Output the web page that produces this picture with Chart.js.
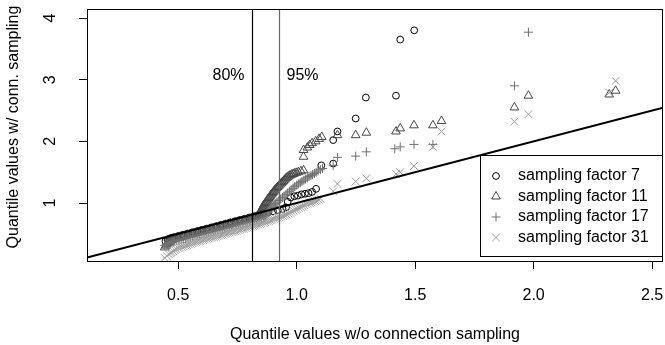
<!DOCTYPE html>
<html>
<head>
<meta charset="utf-8">
<script src="https://cdn.jsdelivr.net/npm/chart.js@4.4.1/dist/chart.umd.min.js"></script>
<style>
  html, body { margin: 0; padding: 0; background: #fff; }
  #wrap { width: 665px; height: 345px; }
</style>
</head>
<body>
<div id="wrap"><canvas id="qq" width="665" height="345"></canvas></div>
<script>
// QQ plot: quantiles with connection sampling vs. without.
const SERIES_LABELS = ['sampling factor 7', 'sampling factor 11', 'sampling factor 17', 'sampling factor 31'];

const factor7 = [
  [0.446, 0.38], [0.455, 0.40], [0.462, 0.42], [0.47, 0.435], [0.48, 0.445], [0.50, 0.465], [0.52, 0.485],
  [0.54, 0.505], [0.56, 0.525], [0.58, 0.545], [0.60, 0.565], [0.62, 0.585], [0.64, 0.605], [0.66, 0.625],
  [0.68, 0.645], [0.70, 0.665], [0.72, 0.685], [0.74, 0.705], [0.76, 0.725], [0.78, 0.745], [0.80, 0.765],
  [0.82, 0.785], [0.84, 0.805], [0.86, 0.825], [0.88, 0.845], [0.90, 0.865], [0.92, 0.885], [0.94, 0.905],
  [0.955, 0.93], [0.962, 1.02], [0.975, 1.09], [0.99, 1.11], [1.005, 1.12], [1.02, 1.14], [1.035, 1.15],
  [1.05, 1.16], [1.065, 1.18], [1.082, 1.23], [1.104, 1.61], [1.154, 1.64], [1.154, 2.02], [1.172, 2.16],
  [1.249, 2.37], [1.292, 2.71], [1.419, 2.74], [1.437, 3.65], [1.496, 3.80]
];

const factor11 = [
  [0.443, 0.28], [0.448, 0.31], [0.452, 0.33], [0.456, 0.35], [0.46, 0.37], [0.465, 0.385], [0.47, 0.40],
  [0.475, 0.41], [0.48, 0.42], [0.485, 0.425], [0.49, 0.43], [0.497, 0.438], [0.505, 0.445], [0.512, 0.453],
  [0.52, 0.46], [0.527, 0.468], [0.535, 0.475], [0.542, 0.483], [0.55, 0.49], [0.557, 0.498], [0.565, 0.505],
  [0.572, 0.513], [0.58, 0.52], [0.587, 0.528], [0.595, 0.535], [0.602, 0.543], [0.61, 0.55], [0.617, 0.558],
  [0.625, 0.565], [0.632, 0.573], [0.64, 0.58], [0.647, 0.588], [0.655, 0.595], [0.662, 0.603], [0.67, 0.61],
  [0.677, 0.618], [0.685, 0.625], [0.692, 0.633], [0.70, 0.64], [0.707, 0.648], [0.715, 0.655], [0.722, 0.663],
  [0.73, 0.67], [0.737, 0.678], [0.745, 0.685], [0.752, 0.693], [0.76, 0.70], [0.767, 0.708], [0.775, 0.715],
  [0.782, 0.723], [0.79, 0.73], [0.797, 0.738], [0.805, 0.745], [0.812, 0.753], [0.82, 0.76], [0.826, 0.77],
  [0.832, 0.78], [0.836, 0.79], [0.84, 0.80], [0.843, 0.82], [0.845, 0.84], [0.848, 0.86], [0.85, 0.88],
  [0.853, 0.90], [0.855, 0.92], [0.858, 0.94], [0.86, 0.96], [0.864, 0.98], [0.868, 1.0], [0.872, 1.02],
  [0.875, 1.04], [0.879, 1.06], [0.882, 1.08], [0.886, 1.10], [0.89, 1.12], [0.894, 1.14], [0.898, 1.16],
  [0.902, 1.18], [0.906, 1.20], [0.91, 1.22], [0.915, 1.24], [0.92, 1.26], [0.925, 1.28], [0.93, 1.30],
  [0.935, 1.32], [0.94, 1.34], [0.945, 1.36], [0.95, 1.38], [0.955, 1.40], [0.96, 1.415], [0.965, 1.43],
  [0.972, 1.445], [0.978, 1.46], [0.985, 1.47], [0.99, 1.48], [0.998, 1.49], [1.007, 1.50], [1.018, 1.515],
  [1.029, 1.53], [1.029, 1.75], [1.029, 1.86], [1.045, 1.90], [1.055, 1.94], [1.065, 1.97], [1.08, 2.0],
  [1.095, 2.04], [1.106, 2.07], [1.172, 2.10], [1.249, 2.10], [1.294, 2.14], [1.419, 2.16], [1.437, 2.21],
  [1.495, 2.26], [1.575, 2.26], [1.611, 2.33], [1.919, 2.55], [1.978, 2.74], [2.319, 2.76], [2.346, 2.82]
];

const factor17 = [
  [0.443, 0.31], [0.449, 0.33], [0.455, 0.34], [0.46, 0.35], [0.465, 0.36], [0.47, 0.365], [0.475, 0.37],
  [0.48, 0.375], [0.485, 0.38], [0.492, 0.388], [0.50, 0.395], [0.507, 0.403], [0.515, 0.41], [0.522, 0.418],
  [0.53, 0.425], [0.537, 0.433], [0.545, 0.44], [0.552, 0.448], [0.56, 0.455], [0.567, 0.463], [0.575, 0.47],
  [0.582, 0.478], [0.59, 0.485], [0.597, 0.493], [0.605, 0.50], [0.612, 0.508], [0.62, 0.515], [0.627, 0.523],
  [0.635, 0.53], [0.642, 0.538], [0.65, 0.545], [0.657, 0.553], [0.665, 0.56], [0.672, 0.568], [0.68, 0.575],
  [0.687, 0.583], [0.695, 0.59], [0.702, 0.598], [0.71, 0.605], [0.717, 0.613], [0.725, 0.62], [0.732, 0.628],
  [0.74, 0.635], [0.747, 0.643], [0.755, 0.65], [0.762, 0.658], [0.77, 0.665], [0.777, 0.673], [0.785, 0.68],
  [0.792, 0.688], [0.80, 0.695], [0.807, 0.703], [0.815, 0.71], [0.822, 0.718], [0.83, 0.725], [0.837, 0.733],
  [0.845, 0.74], [0.852, 0.748], [0.86, 0.76], [0.865, 0.775], [0.87, 0.80], [0.875, 0.825], [0.88, 0.85],
  [0.885, 0.875], [0.89, 0.90], [0.895, 0.925], [0.90, 0.95], [0.905, 0.97], [0.91, 0.99], [0.917, 1.015],
  [0.925, 1.04], [0.932, 1.065], [0.94, 1.09], [0.947, 1.115], [0.955, 1.14], [0.962, 1.165], [0.97, 1.19],
  [0.977, 1.215], [0.985, 1.24], [0.992, 1.265], [1.0, 1.29], [1.007, 1.31], [1.015, 1.33], [1.022, 1.35],
  [1.03, 1.37], [1.037, 1.39], [1.045, 1.41], [1.052, 1.43], [1.06, 1.445], [1.067, 1.46], [1.075, 1.48],
  [1.082, 1.50], [1.09, 1.52], [1.10, 1.54], [1.109, 1.56], [1.154, 1.61], [1.172, 1.74], [1.249, 1.76],
  [1.294, 1.83], [1.414, 1.88], [1.437, 1.91], [1.495, 1.95], [1.575, 1.95], [1.919, 2.90], [1.978, 3.77]
];

const factor31 = [
  [0.443, 0.11], [0.452, 0.14], [0.46, 0.17], [0.467, 0.19], [0.473, 0.20], [0.479, 0.22], [0.485, 0.24],
  [0.492, 0.255], [0.50, 0.27], [0.507, 0.28], [0.515, 0.29], [0.522, 0.30], [0.53, 0.31], [0.537, 0.32],
  [0.545, 0.33], [0.552, 0.34], [0.56, 0.35], [0.567, 0.36], [0.575, 0.37], [0.582, 0.378], [0.59, 0.385],
  [0.597, 0.393], [0.605, 0.40], [0.612, 0.41], [0.62, 0.42], [0.627, 0.428], [0.635, 0.435], [0.642, 0.443],
  [0.65, 0.45], [0.657, 0.458], [0.665, 0.465], [0.672, 0.473], [0.68, 0.48], [0.687, 0.49], [0.695, 0.50],
  [0.702, 0.508], [0.71, 0.515], [0.717, 0.523], [0.725, 0.53], [0.732, 0.538], [0.74, 0.545], [0.747, 0.553],
  [0.755, 0.56], [0.762, 0.57], [0.77, 0.58], [0.777, 0.588], [0.785, 0.595], [0.792, 0.603], [0.80, 0.61],
  [0.807, 0.62], [0.815, 0.63], [0.822, 0.638], [0.83, 0.645], [0.837, 0.653], [0.845, 0.66], [0.852, 0.67],
  [0.86, 0.68], [0.867, 0.69], [0.875, 0.70], [0.882, 0.71], [0.89, 0.72], [0.897, 0.73], [0.905, 0.74],
  [0.912, 0.75], [0.92, 0.76], [0.927, 0.77], [0.935, 0.78], [0.942, 0.79], [0.95, 0.80], [0.957, 0.815],
  [0.965, 0.83], [0.972, 0.845], [0.98, 0.86], [0.987, 0.875], [0.995, 0.89], [1.002, 0.905], [1.01, 0.92],
  [1.017, 0.935], [1.025, 0.95], [1.032, 0.965], [1.04, 0.98], [1.047, 0.99], [1.055, 1.0], [1.062, 1.01],
  [1.07, 1.02], [1.078, 1.03], [1.085, 1.04], [1.092, 1.055], [1.10, 1.07], [1.154, 1.19], [1.172, 1.31],
  [1.249, 1.35], [1.294, 1.40], [1.419, 1.47], [1.437, 1.50], [1.495, 1.60], [1.575, 1.91], [1.611, 2.16],
  [1.919, 2.32], [1.978, 2.44], [2.319, 2.79], [2.346, 2.98]
];

const X_TICKS = [0.5, 1.0, 1.5, 2.0, 2.5];
const Y_TICKS = [1, 2, 3, 4];
const X_RANGE = [0.115, 2.546];
const Y_RANGE = [0.06, 4.146];
const CUTOFFS = [0.813, 0.927];
const CUTOFF_LABELS = ['80%', '95%'];
const CUTOFF_LABEL_Y = 3.07;

const FONT = "'Liberation Sans', Arial, Helvetica, sans-serif";
const STYLES = [
  { pointStyle: 'circle', radius: 3.4, color: '#000000' },
  { pointStyle: 'triangle', radius: 5, color: '#464646' },
  { pointStyle: 'cross', radius: 4.5, color: '#707070' },
  { pointStyle: 'crossRot', radius: 5.5, color: '#9c9c9c' },
];

const toXY = (arr) => arr.map(([x, y]) => ({ x, y }));

// R-style box, rotated y labels, reference lines and legend
const rDecor = {
  id: 'rDecor',
  afterDatasetsDraw(chart) {
    const { ctx, chartArea: a, scales } = chart;
    const xs = scales.x, ys = scales.y;
    ctx.save();

    // identity line y = x
    ctx.save();
    ctx.beginPath();
    ctx.rect(a.left, a.top, a.right - a.left, a.bottom - a.top);
    ctx.clip();
    ctx.strokeStyle = '#000';
    ctx.lineWidth = 2;
    ctx.beginPath();
    ctx.moveTo(xs.getPixelForValue(X_RANGE[0]), ys.getPixelForValue(X_RANGE[0]));
    ctx.lineTo(xs.getPixelForValue(X_RANGE[1]), ys.getPixelForValue(X_RANGE[1]));
    ctx.stroke();
    ctx.restore();

    // quantile cutoffs
    const cutColors = ['#000', '#666'];
    ctx.font = '16px ' + FONT;
    ctx.textBaseline = 'middle';
    CUTOFFS.forEach((c, i) => {
      const px = Math.round(xs.getPixelForValue(c)) + 0.5;
      ctx.strokeStyle = cutColors[i];
      ctx.lineWidth = 1.2;
      ctx.beginPath();
      ctx.moveTo(px, a.top);
      ctx.lineTo(px, a.bottom);
      ctx.stroke();
      ctx.fillStyle = '#000';
      const ly = ys.getPixelForValue(CUTOFF_LABEL_Y);
      if (i === 0) { ctx.textAlign = 'right'; ctx.fillText(CUTOFF_LABELS[i], px - 8, ly); }
      else { ctx.textAlign = 'left'; ctx.fillText(CUTOFF_LABELS[i], px + 7, ly); }
    });

    // box
    ctx.strokeStyle = '#000';
    ctx.lineWidth = 1;
    ctx.strokeRect(a.left + 0.5, a.top + 0.5, a.right - a.left - 1, a.bottom - a.top);

    // y tick labels, parallel to axis
    ctx.fillStyle = '#000';
    ctx.textAlign = 'center';
    ctx.textBaseline = 'middle';
    Y_TICKS.forEach((v) => {
      ctx.save();
      ctx.translate(a.left - 36, ys.getPixelForValue(v));
      ctx.rotate(-Math.PI / 2);
      ctx.fillText(String(v), 0, 0);
      ctx.restore();
    });

    // axis titles
    ctx.fillText('Quantile values w/o connection sampling', (a.left + a.right) / 2, 335);
    ctx.save();
    ctx.translate(14, 127);
    ctx.rotate(-Math.PI / 2);
    ctx.fillText('Quantile values w/ conn. sampling', 0, 0);
    ctx.restore();

    // legend, bottom right
    const lw = 182, lh = 101;
    const lx = a.right - 1 - lw, ly = a.bottom - 5 - lh;
    ctx.fillStyle = '#fff';
    ctx.fillRect(lx, ly, lw, lh);
    ctx.strokeStyle = '#000';
    ctx.lineWidth = 1;
    ctx.strokeRect(Math.round(lx) + 0.5, Math.round(ly) + 0.5, lw, lh);
    ctx.textAlign = 'left';
    SERIES_LABELS.forEach((label, i) => {
      const ry = ly + 21 + i * 20.5;
      const st = STYLES[i];
      ctx.strokeStyle = st.color;
      ctx.fillStyle = 'rgba(0,0,0,0)';
      ctx.lineWidth = 1;
      Chart.helpers.drawPoint(ctx, { pointStyle: st.pointStyle, radius: st.radius, rotation: 0, borderWidth: 1 }, lx + 16, ry);
      ctx.fillStyle = '#000';
      ctx.fillText(label, lx + 38, ry);
    });
    ctx.restore();
  }
};

const datasets = [factor7, factor11, factor17, factor31].map((d, i) => ({
  label: SERIES_LABELS[i],
  data: toXY(d),
  pointStyle: STYLES[i].pointStyle,
  pointRadius: STYLES[i].radius,
  pointBorderColor: STYLES[i].color,
  pointBackgroundColor: 'rgba(0,0,0,0)',
  pointBorderWidth: 1,
  order: 4 - i,
}));

new Chart(document.getElementById('qq'), {
  type: 'scatter',
  data: { datasets },
  options: {
    responsive: false,
    animation: false,
    devicePixelRatio: 1,
    events: [],
    layout: { autoPadding: false, padding: { left: 0, top: 9, right: 2, bottom: 0 } },
    plugins: { legend: { display: false }, tooltip: { enabled: false } },
    scales: {
      x: {
        type: 'linear',
        min: X_RANGE[0],
        max: X_RANGE[1],
        afterBuildTicks: (s) => { s.ticks = X_TICKS.map((v) => ({ value: v })); },
        afterFit: (s) => { s.height = 84; s.paddingLeft = 0; s.paddingRight = 0; },
        ticks: {
          color: '#000',
          font: { family: FONT, size: 16 },
          padding: 17,
          maxRotation: 0,
          callback: (v) => v.toFixed(1),
        },
        grid: { drawOnChartArea: false, drawTicks: true, tickLength: 8, tickColor: '#000', tickWidth: 1 },
        border: { display: false },
      },
      y: {
        type: 'linear',
        min: Y_RANGE[0],
        max: Y_RANGE[1],
        afterBuildTicks: (s) => { s.ticks = Y_TICKS.map((v) => ({ value: v })); },
        afterFit: (s) => { s.width = 87; s.paddingTop = 0; s.paddingBottom = 0; },
        ticks: { display: false },
        grid: { drawOnChartArea: false, drawTicks: true, tickLength: 8, tickColor: '#000', tickWidth: 1 },
        border: { display: false },
      },
    },
  },
  plugins: [rDecor],
});
</script>
</body>
</html>
